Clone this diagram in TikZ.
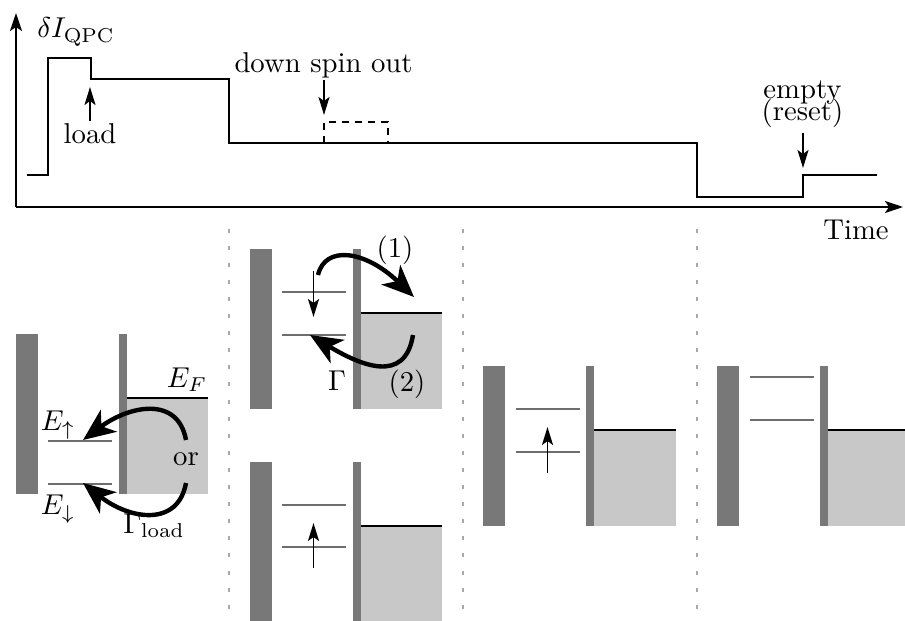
\documentclass[tikz,border=0pt]{standalone}
\usetikzlibrary{arrows.meta}
\definecolor{barrier}{HTML}{787878}
\definecolor{sea}{HTML}{C8C8C8}
\definecolor{lvl}{HTML}{6E6E6E}
\definecolor{dots}{HTML}{A8A8A8}
\tikzset{
  lbl/.style={transform shape,scale=2.87,inner sep=0pt,outer sep=0pt},
  axisline/.style={line width=2.2pt,-{Stealth[length=18pt,width=12pt,inset=4pt]}},
  trace/.style={line width=2pt,line join=miter},
  smallarrow/.style={line width=1.9pt,-{Stealth[length=18pt,width=11pt,inset=4pt]}},
  bigarrow/.style={line width=4.4pt,-{Stealth[length=32pt,width=27pt,inset=9pt]}},
  level/.style={draw=lvl,line width=2pt},
  sepline/.style={draw=dots,line width=2pt,dash pattern=on 4pt off 13.1pt},
  fermi/.style={draw=black,line width=1.8pt},
}
% #1 left barrier x, #2 top y, #3 level x start, #4 upper level y, #5 lower level y, #6 sea top y, #7 bottom y, #8 right edge
\newcommand{\dotpanel}[8]{%
  \fill[barrier] (#1,#2) rectangle ++(22,#7-#2);
  \fill[barrier] (#1+102.5,#2) rectangle ++(8.5,#7-#2);
  \fill[sea] (#1+111,#6) rectangle (#8,#7);
  \draw[fermi] (#1+111,#6) -- (#8,#6);
  \draw[level] (#3,#4) -- ++(63.5,0);
  \draw[level] (#3,#5) -- ++(63.5,0);
}
\begin{document}
\begin{tikzpicture}[x=1pt,y=-1pt]
\useasboundingbox (0,0) rectangle (905,621);
\fill[white] (0,0) rectangle (905,621);
% separators
\draw[sepline] (229,228.5) -- (229,621);
\draw[sepline] (462.5,228.5) -- (462.5,621);
\draw[sepline] (696.5,228.5) -- (696.5,621);
% axes
\coordinate (o) at (16,207);
\draw[axisline] (o) -- (16,13);
\draw[axisline] (o) -- (903,207);
% trace
\draw[trace] (27,175) -- (48,175) -- (48,58) -- (91,58) -- (91,79) -- (229,79) -- (229,143) -- (696.5,143) -- (696.5,197) -- (803,197) -- (803,175) -- (877,175);
\draw[trace,dash pattern=on 7pt off 6pt] (324,143) -- (324,122) -- (388,122) -- (388,143);
% labels
\node[lbl] (ylab) at (76,32) {$\delta I_{\mathrm{QPC}}$};
\node[lbl] (load) at (90,134) {load};
\node[lbl] (dso) at (323.5,65) {down spin out};
\node[lbl] (empty) at (802.5,93) {empty};
\node[lbl] (reset) at (802.5,113) {(reset)};
\node[lbl] (time) at (856,230) {Time};
\coordinate (loadtip) at (90,87);
\coordinate (dsotip) at (324,115);
\coordinate (resettip) at (803,168);
\draw[smallarrow] (90,121) -- (loadtip);
\draw[smallarrow] (324,80) -- (dsotip);
\draw[smallarrow] (803,133) -- (resettip);
% panel 1
\dotpanel{16}{334}{48}{440.5}{483.5}{398}{494}{208}
\node[lbl] (eup) at (58,425) {$E_\uparrow$};
\node[lbl] (edn) at (58,509) {$E_\downarrow$};
\node[lbl] (ef) at (187,380) {$E_F$};
\node[lbl] (or) at (186,459) {or};
\node[lbl] (gl) at (154,526) {$\Gamma_{\mathrm{load}}$};
\draw[bigarrow] (186,440) .. controls (178,396) and (130,405) .. (83,440);
\draw[bigarrow] (186,483) .. controls (178,527) and (130,520) .. (83,483);
% panel 2 top
\dotpanel{250}{249}{282}{292}{335}{313}{409}{442}
\draw[smallarrow] (313.5,271) -- (313.5,317);
\draw[bigarrow] (318,275) .. controls (325,245) and (365,250) .. (414,297);
\draw[bigarrow] (413,335) .. controls (405,385) and (360,365) .. (310,335);
\node[lbl] (one) at (395,250) {(1)};
\node[lbl] (two) at (407,384) {(2)};
\node[lbl] (gam) at (337,381) {$\Gamma$};
% panel 2 bottom
\dotpanel{250}{462}{282}{505}{547}{526}{621}{442}
\draw[smallarrow] (313.5,568) -- (313.5,523);
% panel 3
\dotpanel{483}{366}{516}{409}{451.5}{430}{526}{676}
\draw[smallarrow] (547.5,473) -- (547.5,427);
% panel 4
\dotpanel{717}{366}{750}{377}{420}{430}{526}{905}
\end{tikzpicture}
\end{document}
